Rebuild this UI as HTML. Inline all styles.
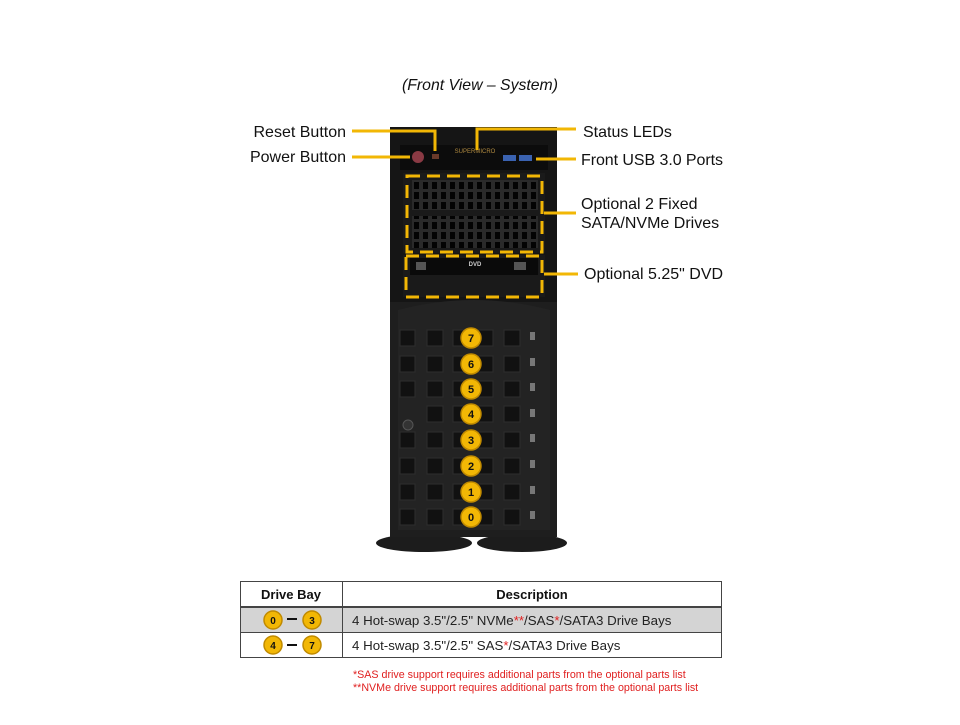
<!DOCTYPE html>
<html><head><meta charset="utf-8"><style>
html,body{margin:0;padding:0;background:#fff;}
body{width:960px;height:720px;overflow:hidden;font-family:"Liberation Sans",sans-serif;}
</style></head><body>
<svg width="960" height="720" viewBox="0 0 960 720" xmlns="http://www.w3.org/2000/svg" font-family="Liberation Sans, sans-serif">
<defs>
<pattern id="grill" x="412" y="180" width="9" height="10" patternUnits="userSpaceOnUse">
<rect width="9" height="10" fill="#2a2a2a"/>
<rect x="2" y="2" width="5" height="7" fill="#030303"/>
</pattern>
</defs>
<text x="480" y="90" font-size="15.8" font-style="italic" text-anchor="middle" fill="#111">(Front View – System)</text>

<!-- feet -->
<ellipse cx="424" cy="543" rx="48" ry="9" fill="#1c1c1c"/>
<ellipse cx="522" cy="543" rx="45" ry="9" fill="#1c1c1c"/>
<!-- chassis -->
<rect x="390" y="127" width="167" height="410" fill="#151515"/>
<rect x="390" y="302" width="167" height="235" fill="#1e1e1e"/>
<path d="M398 310 Q474 290 550 310 L550 530 L398 530 Z" fill="#232323"/>
<!-- front panel -->
<rect x="400" y="145" width="148" height="25" fill="#0c0c0c"/>
<circle cx="418" cy="157" r="6" fill="#8a3a44"/>
<rect x="432" y="154" width="7" height="5" fill="#6a3a2a"/>
<text x="475" y="153" font-size="6" fill="#b08a40" text-anchor="middle">SUPERMICRO</text>
<rect x="503" y="155" width="13" height="6" fill="#3a62b0"/>
<rect x="519" y="155" width="13" height="6" fill="#3a62b0"/>
<!-- drive bays -->
<rect x="403" y="173" width="142" height="80" fill="#1a1a1a"/>
<rect x="412" y="180" width="126" height="30" fill="url(#grill)"/>
<rect x="412" y="216" width="126" height="32" fill="url(#grill)"/>
<rect x="403" y="255" width="142" height="42" fill="#1a1a1a"/>
<rect x="410" y="258" width="128" height="17" fill="#0a0a0a"/>
<rect x="416" y="262" width="10" height="8" fill="#555"/>
<rect x="514" y="262" width="12" height="8" fill="#555"/>
<text x="475" y="266" font-size="6" fill="#ccc" text-anchor="middle" font-weight="bold">DVD</text>
<!-- dashed boxes -->
<rect x="407" y="176" width="135" height="76" fill="none" stroke="#f2b705" stroke-width="3" stroke-dasharray="13,7"/>
<rect x="406" y="256" width="136" height="41" fill="none" stroke="#f2b705" stroke-width="3" stroke-dasharray="13,7"/>
<!-- grid squares -->
<g fill="#111" stroke="#2e2e2e" stroke-width="1">
<rect x="400" y="330" width="15" height="16"/><rect x="427" y="330" width="16" height="16"/><rect x="453" y="330" width="18" height="16"/><rect x="477" y="330" width="16" height="16"/><rect x="504" y="330" width="16" height="16"/>
<rect x="400" y="356" width="15" height="16"/><rect x="427" y="356" width="16" height="16"/><rect x="453" y="356" width="18" height="16"/><rect x="477" y="356" width="16" height="16"/><rect x="504" y="356" width="16" height="16"/>
<rect x="400" y="381" width="15" height="16"/><rect x="427" y="381" width="16" height="16"/><rect x="453" y="381" width="18" height="16"/><rect x="477" y="381" width="16" height="16"/><rect x="504" y="381" width="16" height="16"/>
<rect x="427" y="406" width="16" height="16"/><rect x="453" y="406" width="18" height="16"/><rect x="477" y="406" width="16" height="16"/><rect x="504" y="406" width="16" height="16"/>
<rect x="400" y="432" width="15" height="16"/><rect x="427" y="432" width="16" height="16"/><rect x="453" y="432" width="18" height="16"/><rect x="477" y="432" width="16" height="16"/><rect x="504" y="432" width="16" height="16"/>
<rect x="400" y="458" width="15" height="16"/><rect x="427" y="458" width="16" height="16"/><rect x="453" y="458" width="18" height="16"/><rect x="477" y="458" width="16" height="16"/><rect x="504" y="458" width="16" height="16"/>
<rect x="400" y="484" width="15" height="16"/><rect x="427" y="484" width="16" height="16"/><rect x="453" y="484" width="18" height="16"/><rect x="477" y="484" width="16" height="16"/><rect x="504" y="484" width="16" height="16"/>
<rect x="400" y="509" width="15" height="16"/><rect x="427" y="509" width="16" height="16"/><rect x="453" y="509" width="18" height="16"/><rect x="477" y="509" width="16" height="16"/><rect x="504" y="509" width="16" height="16"/>
</g>
<circle cx="408" cy="425" r="5" fill="#333" stroke="#555"/>
<g fill="#777">
<rect x="530" y="332" width="5" height="8"/><rect x="530" y="358" width="5" height="8"/><rect x="530" y="383" width="5" height="8"/><rect x="530" y="409" width="5" height="8"/><rect x="530" y="434" width="5" height="8"/><rect x="530" y="460" width="5" height="8"/><rect x="530" y="486" width="5" height="8"/><rect x="530" y="511" width="5" height="8"/>
</g>
<!-- badges -->
<g font-size="11" font-weight="bold" text-anchor="middle" fill="#111">
<g fill="#f2b705" stroke="#c08a00" stroke-width="1.5">
<circle cx="471" cy="338" r="10"/><circle cx="471" cy="364" r="10"/><circle cx="471" cy="389" r="10"/><circle cx="471" cy="414" r="10"/><circle cx="471" cy="440" r="10"/><circle cx="471" cy="466" r="10"/><circle cx="471" cy="492" r="10"/><circle cx="471" cy="517" r="10"/>
</g>
<text x="471" y="342">7</text><text x="471" y="368">6</text><text x="471" y="393">5</text><text x="471" y="418">4</text><text x="471" y="444">3</text><text x="471" y="470">2</text><text x="471" y="496">1</text><text x="471" y="521">0</text>
</g>
<!-- leader lines -->
<g stroke="#f2b705" stroke-width="3" fill="none">
<polyline points="352,131 435,131 435,151"/>
<line x1="352" y1="157" x2="410" y2="157"/>
<polyline points="576,129 477,129 477,150"/>
<line x1="536" y1="159" x2="576" y2="159"/>
<line x1="544" y1="213" x2="576" y2="213"/>
<line x1="544" y1="274" x2="578" y2="274"/>
</g>
<g font-size="16" fill="#111">
<text x="346" y="137" text-anchor="end">Reset Button</text>
<text x="346" y="162" text-anchor="end">Power Button</text>
<text x="583" y="137">Status LEDs</text>
<text x="581" y="165" textLength="142">Front USB 3.0 Ports</text>
<text x="581" y="209">Optional 2 Fixed</text>
<text x="581" y="228">SATA/NVMe Drives</text>
<text x="584" y="279">Optional 5.25" DVD</text>
</g>

<!-- table -->
<rect x="241" y="607" width="481" height="25" fill="#d4d4d4"/>
<g stroke="#444" stroke-width="1" fill="none">
<rect x="240.5" y="581.5" width="481" height="76"/>
<line x1="342.5" y1="581" x2="342.5" y2="658"/>
<line x1="240" y1="607" x2="722" y2="607" stroke-width="2"/>
<line x1="240" y1="632.5" x2="722" y2="632.5"/>
</g>
<g font-size="13" font-weight="bold" text-anchor="middle" fill="#111">
<text x="291" y="599">Drive Bay</text>
<text x="532" y="599">Description</text>
</g>
<g font-size="13.3" fill="#222">
<text x="352" y="625">4 Hot-swap 3.5"/2.5" NVMe<tspan fill="#e02020">**</tspan>/SAS<tspan fill="#e02020">*</tspan>/SATA3 Drive Bays</text>
<text x="352" y="650">4 Hot-swap 3.5"/2.5" SAS<tspan fill="#e02020">*</tspan>/SATA3 Drive Bays</text>
</g>
<g fill="#f2b705" stroke="#c08a00" stroke-width="1.5">
<circle cx="273" cy="620" r="9"/><circle cx="312" cy="620" r="9"/>
<circle cx="273" cy="645" r="9"/><circle cx="312" cy="645" r="9"/>
</g>
<g stroke="#111" stroke-width="2"><line x1="287" y1="619" x2="297" y2="619"/><line x1="287" y1="645" x2="297" y2="645"/></g>
<g font-size="10" font-weight="bold" text-anchor="middle" fill="#111">
<text x="273" y="624">0</text><text x="312" y="624">3</text>
<text x="273" y="649">4</text><text x="312" y="649">7</text>
</g>
<g font-size="10.7" fill="#e02020">
<text x="353" y="678">*SAS drive support requires additional parts from the optional parts list</text>
<text x="353" y="691">**NVMe drive support requires additional parts from the optional parts list</text>
</g>
</svg>
</body></html>
